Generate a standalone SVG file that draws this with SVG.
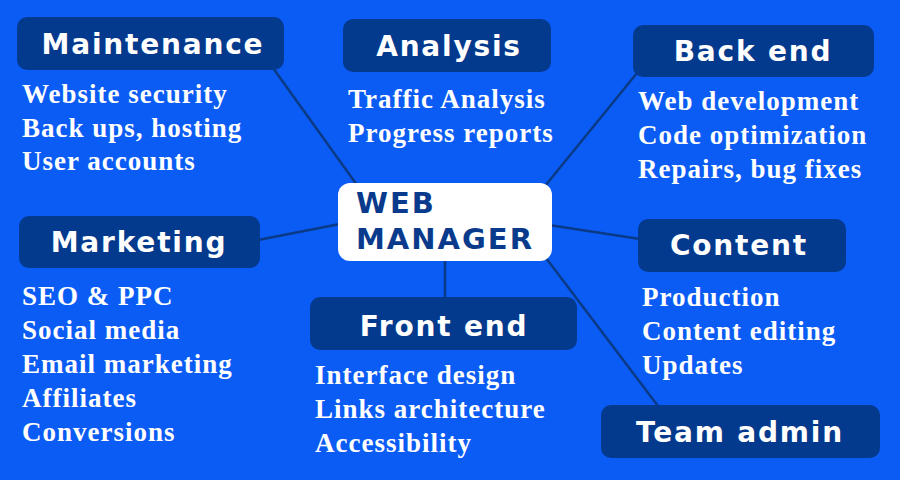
<svg xmlns="http://www.w3.org/2000/svg" width="900" height="480" viewBox="0 0 900 480">
<style>
.box{fill:#043a8e}
.h{font-family:"DejaVu Sans",Verdana,sans-serif;font-weight:bold;font-size:28px;fill:#fff;text-anchor:middle;letter-spacing:1.8px}
.i{font-family:"Liberation Serif","Times New Roman",serif;font-weight:bold;font-size:27px;fill:#fff;letter-spacing:1px}
.c{stroke:#0a3a86;stroke-width:2.5;fill:none}
.m{font-family:"DejaVu Sans",Verdana,sans-serif;font-weight:bold;font-size:29px;fill:#0a3a8c;letter-spacing:2px}
</style>
<rect width="900" height="480" fill="#0b5cf4"/>
<g id="connectors">
<line class="c" x1="273" y1="68" x2="357" y2="185"/>
<line class="c" x1="637" y1="73" x2="545" y2="186"/>
<line class="c" x1="258" y1="240" x2="340" y2="224"/>
<line class="c" x1="549" y1="225" x2="640" y2="239"/>
<line class="c" x1="445" y1="259" x2="445" y2="299"/>
<line class="c" x1="546" y1="258" x2="658" y2="406"/>
</g>
<g id="center">
<rect x="338" y="183" width="214" height="78" rx="12" fill="#fff"/>
<text class="m" x="356" y="213">WEB</text>
<text class="m" x="356" y="249">MANAGER</text>
</g>
<g id="maintenance">
<rect class="box" x="17" y="17" width="267" height="53" rx="10"/>
<text class="h" x="153" y="54">Maintenance</text>
<text class="i" x="22" y="103">Website security</text>
<text class="i" x="22" y="137">Back ups, hosting</text>
<text class="i" x="22" y="170">User accounts</text>
</g>
<g id="analysis">
<rect class="box" x="343" y="19" width="208" height="53" rx="10"/>
<text class="h" x="449" y="56">Analysis</text>
<text class="i" x="348" y="108">Traffic Analysis</text>
<text class="i" x="348" y="142">Progress reports</text>
</g>
<g id="backend">
<rect class="box" x="633" y="25" width="241" height="52" rx="10"/>
<text class="h" x="753" y="61">Back end</text>
<text class="i" x="638" y="110">Web development</text>
<text class="i" x="638" y="144">Code optimization</text>
<text class="i" x="638" y="178">Repairs, bug fixes</text>
</g>
<g id="marketing">
<rect class="box" x="19" y="216" width="241" height="52" rx="10"/>
<text class="h" x="139" y="252">Marketing</text>
<text class="i" x="22" y="305">SEO &amp; PPC</text>
<text class="i" x="22" y="339">Social media</text>
<text class="i" x="22" y="373">Email marketing</text>
<text class="i" x="22" y="407">Affiliates</text>
<text class="i" x="22" y="441">Conversions</text>
</g>
<g id="content">
<rect class="box" x="638" y="219" width="208" height="53" rx="10"/>
<text class="h" x="739" y="255">Content</text>
<text class="i" x="642" y="306">Production</text>
<text class="i" x="642" y="340">Content editing</text>
<text class="i" x="642" y="374">Updates</text>
</g>
<g id="frontend">
<rect class="box" x="310" y="297" width="267" height="53" rx="10"/>
<text class="h" x="444" y="336">Front end</text>
<text class="i" x="315" y="384">Interface design</text>
<text class="i" x="315" y="418">Links architecture</text>
<text class="i" x="315" y="452">Accessibility</text>
</g>
<g id="teamadmin">
<rect class="box" x="601" y="405" width="279" height="53" rx="10"/>
<text class="h" x="740" y="442">Team admin</text>
</g>
</svg>
